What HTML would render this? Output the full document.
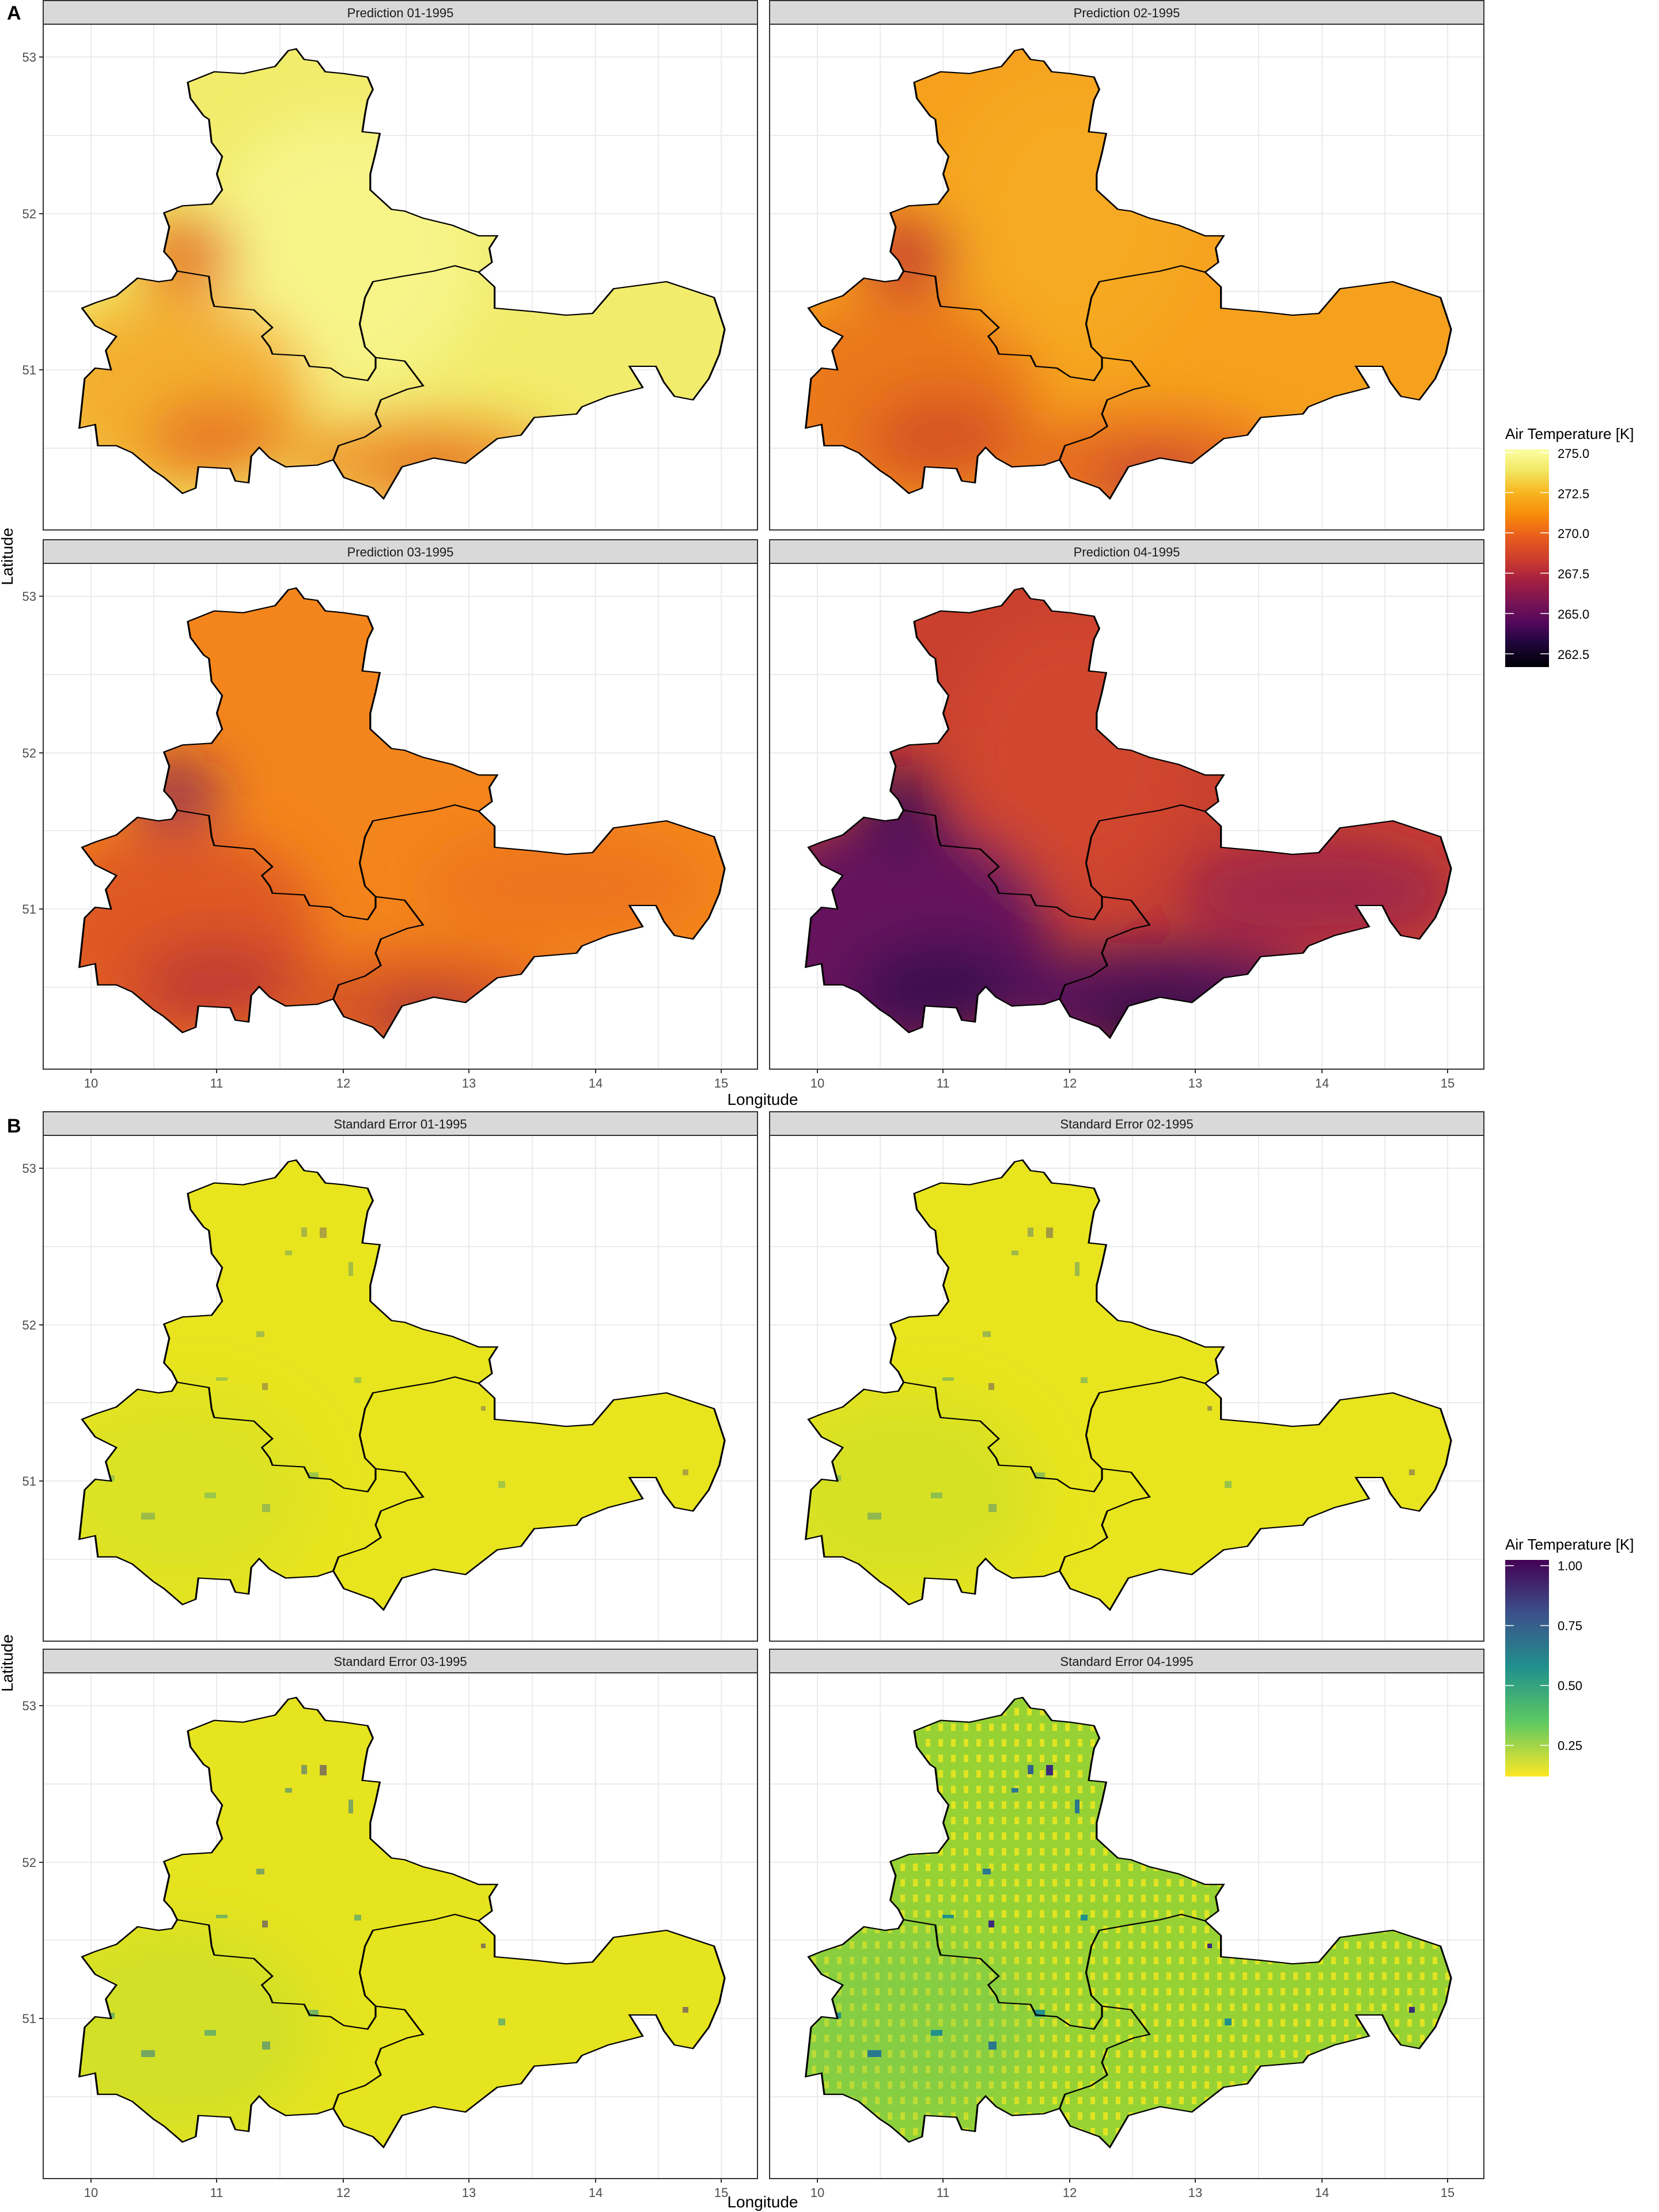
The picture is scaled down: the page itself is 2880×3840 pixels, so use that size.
<!DOCTYPE html>
<html><head><meta charset="utf-8"><style>body{margin:0;background:#fff}svg{display:block}text{font-family:"Liberation Sans",sans-serif}</style></head>
<body>
<svg width="2880" height="3840" viewBox="0 0 2880 3840" xmlns="http://www.w3.org/2000/svg">
<defs>
<filter id="bl" x="-50%" y="-50%" width="200%" height="200%"><feGaussianBlur stdDeviation="45"/></filter>
<filter id="bs" x="-50%" y="-50%" width="200%" height="200%"><feGaussianBlur stdDeviation="3"/></filter>
<path id="outer" transform="translate(-75,-46) scale(0.9183,0.6124)" d="M560,145 L575,175 L600,180 L615,210 L650,215 L695,225 L705,260 L695,290 L690,330 L685,380 L718,385 L710,440 L700,500 L700,545 L740,600 L765,605 L800,625 L855,645 L880,660 L905,675 L940,675 L925,710 L930,750 L905,778 L935,820 L935,880 L1010,890 L1070,900 L1120,895 L1160,825 L1260,805 L1350,850 L1370,940 L1360,1010 L1340,1080 L1310,1140 L1275,1130 L1255,1090 L1240,1045 L1190,1045 L1215,1105 L1150,1130 L1100,1160 L1090,1180 L1010,1190 L985,1240 L940,1250 L880,1320 L820,1305 L760,1330 L725,1420 L705,1390 L650,1360 L630,1310 L600,1325 L540,1330 L510,1305 L490,1275 L475,1300 L470,1375 L445,1370 L435,1335 L375,1330 L370,1390 L345,1405 L310,1360 L290,1340 L250,1290 L220,1270 L185,1270 L180,1210 L150,1220 L160,1080 L180,1050 L210,1055 L200,1000 L220,960 L180,930 L155,880 L180,865 L220,845 L260,795 L300,805 L325,800 L335,775 L325,745 L310,720 L320,650 L310,610 L345,590 L400,585 L420,545 L410,500 L420,450 L400,410 L395,345 L385,335 L360,285 L355,240 L405,210 L460,215 L520,195 L545,150 Z"/>
<path id="inner" transform="translate(-75,-46) scale(0.9183,0.6124)" d="M335,775 L395,790 L400,850 L405,875 L480,885 L515,935 L495,960 L510,990 L515,1010 L575,1015 L585,1045 L625,1050 L650,1075 L695,1085 L710,1050 L710,1020 M905,778 L860,760 L820,775 L760,790 L705,805 L690,850 L680,925 L690,990 L710,1020 L765,1030 L800,1100 L770,1110 L720,1140 L710,1180 L720,1215 L690,1245 L640,1270 L630,1310"/>
<clipPath id="clip"><use href="#outer"/></clipPath>
<linearGradient id="leg1" x1="0" y1="0" x2="0" y2="1">
<stop offset="0" stop-color="#fcffa4"/><stop offset="0.1" stop-color="#f2e661"/><stop offset="0.2" stop-color="#f8b51f"/><stop offset="0.3" stop-color="#f98c0a"/><stop offset="0.4" stop-color="#e85d1d"/><stop offset="0.5" stop-color="#cf3e2c"/><stop offset="0.6" stop-color="#a6203f"/><stop offset="0.7" stop-color="#7b1454"/><stop offset="0.8" stop-color="#52075c"/><stop offset="0.88" stop-color="#23063f"/><stop offset="1" stop-color="#000004"/></linearGradient>
<linearGradient id="leg2" x1="0" y1="0" x2="0" y2="1">
<stop offset="0" stop-color="#440154"/><stop offset="0.25" stop-color="#3b528b"/><stop offset="0.5" stop-color="#21918c"/><stop offset="0.75" stop-color="#5ec962"/><stop offset="1" stop-color="#fde725"/></linearGradient>
<pattern id="dots" width="22" height="27" patternUnits="userSpaceOnUse"><rect width="22" height="27" fill="#97d234"/><rect x="7" y="7" width="8" height="13" fill="#e0e422"/></pattern>
<g id="grid">
<rect x="0" y="0" width="1240" height="878" fill="#fff" stroke="none"/>
<g stroke="#ebebeb" stroke-width="2">
<line x1="0" y1="57" x2="1240" y2="57"/><line x1="0" y1="193" x2="1240" y2="193"/><line x1="0" y1="329" x2="1240" y2="329"/><line x1="0" y1="464" x2="1240" y2="464"/><line x1="0" y1="600" x2="1240" y2="600"/><line x1="0" y1="736" x2="1240" y2="736"/>
<line x1="83" y1="0" x2="83" y2="878"/><line x1="192" y1="0" x2="192" y2="878"/><line x1="301" y1="0" x2="301" y2="878"/><line x1="411" y1="0" x2="411" y2="878"/><line x1="521" y1="0" x2="521" y2="878"/><line x1="630" y1="0" x2="630" y2="878"/><line x1="739" y1="0" x2="739" y2="878"/><line x1="849" y1="0" x2="849" y2="878"/><line x1="959" y1="0" x2="959" y2="878"/><line x1="1068" y1="0" x2="1068" y2="878"/><line x1="1177" y1="0" x2="1177" y2="878"/>
</g></g>
<g id="lines"><use href="#outer" fill="none" stroke="#000" stroke-width="3.5"/><use href="#inner" fill="none" stroke="#000" stroke-width="3.5"/></g>
<g id="ylab" font-size="22" fill="#4d4d4d" text-anchor="end">
<text x="-12" y="65">53</text><text x="-12" y="337">52</text><text x="-12" y="608">51</text>
<g stroke="#333" stroke-width="2"><line x1="-7" y1="57" x2="0" y2="57"/><line x1="-7" y1="329" x2="0" y2="329"/><line x1="-7" y1="600" x2="0" y2="600"/></g></g>
<g id="xlab" font-size="22" fill="#4d4d4d" text-anchor="middle">
<g stroke="#333" stroke-width="2"><line x1="83" y1="878" x2="83" y2="885"/><line x1="301" y1="878" x2="301" y2="885"/><line x1="521" y1="878" x2="521" y2="885"/><line x1="739" y1="878" x2="739" y2="885"/><line x1="959" y1="878" x2="959" y2="885"/><line x1="1177" y1="878" x2="1177" y2="885"/></g>
<text x="83" y="910">10</text><text x="301" y="910">11</text><text x="521" y="910">12</text><text x="739" y="910">13</text><text x="959" y="910">14</text><text x="1177" y="910">15</text></g>
<g id="specks">
<rect x="448" y="160" width="10" height="16" fill="#33638d"/><rect x="480" y="160" width="12" height="18" fill="#3b2a7a"/><rect x="420" y="200" width="12" height="8" fill="#2a788e"/><rect x="530" y="220" width="8" height="24" fill="#2a788e"/><rect x="370" y="340" width="14" height="10" fill="#2a788e"/><rect x="380" y="430" width="10" height="12" fill="#3b2a7a"/><rect x="300" y="420" width="20" height="6" fill="#21918c"/><rect x="760" y="470" width="8" height="8" fill="#3b2a7a"/><rect x="460" y="585" width="18" height="12" fill="#21918c"/><rect x="380" y="640" width="14" height="14" fill="#2a788e"/><rect x="280" y="620" width="20" height="10" fill="#21918c"/><rect x="170" y="655" width="24" height="12" fill="#2a788e"/><rect x="1110" y="580" width="10" height="10" fill="#3b2a7a"/><rect x="1150" y="660" width="8" height="10" fill="#21918c"/><rect x="1140" y="790" width="12" height="10" fill="#21918c"/><rect x="740" y="835" width="12" height="12" fill="#21918c"/><rect x="110" y="590" width="14" height="10" fill="#21918c"/><rect x="790" y="600" width="12" height="12" fill="#21918c"/><rect x="540" y="420" width="12" height="10" fill="#21918c"/>
</g>
</defs>

<!-- Row 1 -->
<g transform="translate(75,42)">
<use href="#grid"/>
<g clip-path="url(#clip)">
<rect x="0" y="0" width="1240" height="878" fill="#f2ec6c"/>
<g filter="url(#bl)">
<ellipse cx="520" cy="400" rx="240" ry="240" fill="#f7f690" opacity="0.8"/>
<ellipse cx="230" cy="640" rx="240" ry="170" fill="#f39a1e" opacity="0.75"/>
<ellipse cx="300" cy="720" rx="120" ry="70" fill="#e4661f" opacity="0.7"/>
<ellipse cx="250" cy="400" rx="90" ry="70" fill="#e46b22" opacity="0.85"/>
<ellipse cx="660" cy="760" rx="240" ry="80" fill="#ee8520" opacity="0.8"/>
<ellipse cx="680" cy="790" rx="90" ry="30" fill="#d94d2a" opacity="0.8"/>
</g></g>
<use href="#lines"/>
<rect x="0" y="0" width="1240" height="878" fill="none" stroke="#333" stroke-width="2"/>
<use href="#ylab"/>
</g>
<g transform="translate(75,0)"><rect x="0" y="1" width="1240" height="41" fill="#d9d9d9" stroke="#333" stroke-width="2"/><text x="620" y="30" font-size="22" fill="#1a1a1a" text-anchor="middle">Prediction 01-1995</text></g>

<g transform="translate(1336,42)">
<use href="#grid"/>
<g clip-path="url(#clip)">
<rect x="0" y="0" width="1240" height="878" fill="#f6a11e"/>
<g filter="url(#bl)">
<ellipse cx="520" cy="330" rx="220" ry="260" fill="#f7ac22" opacity="0.7"/>
<ellipse cx="230" cy="650" rx="240" ry="180" fill="#e6691e" opacity="0.75"/>
<ellipse cx="300" cy="720" rx="130" ry="80" fill="#cf4628" opacity="0.7"/>
<ellipse cx="240" cy="400" rx="90" ry="70" fill="#c53a2d" opacity="0.85"/>
<ellipse cx="660" cy="770" rx="240" ry="90" fill="#e05a23" opacity="0.8"/>
<ellipse cx="670" cy="800" rx="90" ry="35" fill="#a82a44" opacity="0.8"/>
</g></g>
<use href="#lines"/>
<rect x="0" y="0" width="1240" height="878" fill="none" stroke="#333" stroke-width="2"/>
</g>
<g transform="translate(1336,0)"><rect x="0" y="1" width="1240" height="41" fill="#d9d9d9" stroke="#333" stroke-width="2"/><text x="620" y="30" font-size="22" fill="#1a1a1a" text-anchor="middle">Prediction 02-1995</text></g>

<!-- Row 2 -->
<g transform="translate(75,978)">
<use href="#grid"/>
<g clip-path="url(#clip)">
<rect x="0" y="0" width="1240" height="878" fill="#f4851c"/>
<g filter="url(#bl)">
<ellipse cx="230" cy="650" rx="250" ry="190" fill="#d84c24" opacity="0.8"/>
<ellipse cx="300" cy="730" rx="140" ry="80" fill="#b8343a" opacity="0.7"/>
<ellipse cx="230" cy="400" rx="80" ry="60" fill="#7a1a5e" opacity="0.75"/>
<ellipse cx="660" cy="770" rx="240" ry="90" fill="#d04a28" opacity="0.8"/>
<ellipse cx="670" cy="800" rx="90" ry="35" fill="#8a1f4e" opacity="0.8"/>
<ellipse cx="900" cy="560" rx="240" ry="90" fill="#e9691f" opacity="0.6"/>
</g></g>
<use href="#lines"/>
<rect x="0" y="0" width="1240" height="878" fill="none" stroke="#333" stroke-width="2"/>
<use href="#ylab"/><use href="#xlab"/>
</g>
<g transform="translate(75,936)"><rect x="0" y="1" width="1240" height="41" fill="#d9d9d9" stroke="#333" stroke-width="2"/><text x="620" y="30" font-size="22" fill="#1a1a1a" text-anchor="middle">Prediction 03-1995</text></g>

<g transform="translate(1336,978)">
<use href="#grid"/>
<g clip-path="url(#clip)">
<rect x="0" y="0" width="1240" height="878" fill="#c9402f"/>
<g filter="url(#bl)">
<ellipse cx="520" cy="330" rx="200" ry="240" fill="#d44a2c" opacity="0.7"/>
<ellipse cx="220" cy="650" rx="270" ry="210" fill="#5a1263" opacity="0.9"/>
<ellipse cx="300" cy="740" rx="150" ry="80" fill="#2d0a4a" opacity="0.7"/>
<ellipse cx="230" cy="420" rx="80" ry="70" fill="#3d0b55" opacity="0.85"/>
<ellipse cx="680" cy="760" rx="280" ry="100" fill="#4a1060" opacity="0.9"/>
<ellipse cx="680" cy="800" rx="130" ry="40" fill="#160624" opacity="0.8"/>
<ellipse cx="950" cy="570" rx="240" ry="90" fill="#8d1f55" opacity="0.7"/>
</g></g>
<use href="#lines"/>
<rect x="0" y="0" width="1240" height="878" fill="none" stroke="#333" stroke-width="2"/>
<use href="#xlab"/>
</g>
<g transform="translate(1336,936)"><rect x="0" y="1" width="1240" height="41" fill="#d9d9d9" stroke="#333" stroke-width="2"/><text x="620" y="30" font-size="22" fill="#1a1a1a" text-anchor="middle">Prediction 04-1995</text></g>

<text x="1324" y="1918" font-size="28" text-anchor="middle" fill="#000">Longitude</text>
<text transform="translate(22,966) rotate(-90)" font-size="28" text-anchor="middle" fill="#000">Latitude</text>
<text x="12" y="34" font-size="34" font-weight="bold" fill="#000">A</text>
<text x="12" y="1966" font-size="34" font-weight="bold" fill="#000">B</text>

<!-- Legend 1 -->
<text x="2613" y="762" font-size="26" fill="#000">Air Temperature [K]</text>
<rect x="2613" y="780" width="76" height="378" fill="url(#leg1)"/>
<g stroke="#fff" stroke-width="1.5"><line x1="2613" y1="786" x2="2628" y2="786"/><line x1="2674" y1="786" x2="2689" y2="786"/><line x1="2613" y1="855" x2="2628" y2="855"/><line x1="2674" y1="855" x2="2689" y2="855"/><line x1="2613" y1="925" x2="2628" y2="925"/><line x1="2674" y1="925" x2="2689" y2="925"/><line x1="2613" y1="995" x2="2628" y2="995"/><line x1="2674" y1="995" x2="2689" y2="995"/><line x1="2613" y1="1065" x2="2628" y2="1065"/><line x1="2674" y1="1065" x2="2689" y2="1065"/><line x1="2613" y1="1135" x2="2628" y2="1135"/><line x1="2674" y1="1135" x2="2689" y2="1135"/></g>
<g font-size="22" fill="#000"><text x="2704" y="795">275.0</text><text x="2704" y="865">272.5</text><text x="2704" y="934">270.0</text><text x="2704" y="1004">267.5</text><text x="2704" y="1074">265.0</text><text x="2704" y="1144">262.5</text></g>

<!-- Row 3 -->
<g transform="translate(75,1971)">
<use href="#grid"/>
<g clip-path="url(#clip)">
<rect x="0" y="0" width="1240" height="878" fill="#e8e41e"/>
<g filter="url(#bl)">
<ellipse cx="230" cy="620" rx="230" ry="170" fill="#cfe02a" opacity="0.5"/>
</g>
<g opacity="0.35"><use href="#specks"/></g>
</g>
<use href="#lines"/>
<rect x="0" y="0" width="1240" height="878" fill="none" stroke="#333" stroke-width="2"/>
<use href="#ylab"/>
</g>
<g transform="translate(75,1929)"><rect x="0" y="1" width="1240" height="41" fill="#d9d9d9" stroke="#333" stroke-width="2"/><text x="620" y="30" font-size="22" fill="#1a1a1a" text-anchor="middle">Standard Error 01-1995</text></g>

<g transform="translate(1336,1971)">
<use href="#grid"/>
<g clip-path="url(#clip)">
<rect x="0" y="0" width="1240" height="878" fill="#e8e41e"/>
<g filter="url(#bl)">
<ellipse cx="230" cy="620" rx="230" ry="170" fill="#c9df2c" opacity="0.55"/>
</g>
<g opacity="0.4"><use href="#specks"/></g>
</g>
<use href="#lines"/>
<rect x="0" y="0" width="1240" height="878" fill="none" stroke="#333" stroke-width="2"/>
</g>
<g transform="translate(1336,1929)"><rect x="0" y="1" width="1240" height="41" fill="#d9d9d9" stroke="#333" stroke-width="2"/><text x="620" y="30" font-size="22" fill="#1a1a1a" text-anchor="middle">Standard Error 02-1995</text></g>

<!-- Row 4 -->
<g transform="translate(75,2904)">
<use href="#grid"/>
<g clip-path="url(#clip)">
<rect x="0" y="0" width="1240" height="878" fill="#e6e31f"/>
<g filter="url(#bl)">
<ellipse cx="230" cy="620" rx="240" ry="180" fill="#c4de2e" opacity="0.6"/>
</g>
<g opacity="0.55"><use href="#specks"/></g>
</g>
<use href="#lines"/>
<rect x="0" y="0" width="1240" height="878" fill="none" stroke="#333" stroke-width="2"/>
<use href="#ylab"/><use href="#xlab"/>
</g>
<g transform="translate(75,2862)"><rect x="0" y="1" width="1240" height="41" fill="#d9d9d9" stroke="#333" stroke-width="2"/><text x="620" y="30" font-size="22" fill="#1a1a1a" text-anchor="middle">Standard Error 03-1995</text></g>

<g transform="translate(1336,2904)">
<use href="#grid"/>
<g clip-path="url(#clip)">
<rect x="0" y="0" width="1240" height="878" fill="url(#dots)"/>
<g filter="url(#bl)">
<ellipse cx="220" cy="620" rx="240" ry="180" fill="#5cc463" opacity="0.3"/>
</g>
<use href="#specks"/>
</g>
<use href="#lines"/>
<rect x="0" y="0" width="1240" height="878" fill="none" stroke="#333" stroke-width="2"/>
<use href="#xlab"/>
</g>
<g transform="translate(1336,2862)"><rect x="0" y="1" width="1240" height="41" fill="#d9d9d9" stroke="#333" stroke-width="2"/><text x="620" y="30" font-size="22" fill="#1a1a1a" text-anchor="middle">Standard Error 04-1995</text></g>

<text x="1324" y="3832" font-size="28" text-anchor="middle" fill="#000">Longitude</text>
<text transform="translate(22,2887) rotate(-90)" font-size="28" text-anchor="middle" fill="#000">Latitude</text>

<!-- Legend 2 -->
<text x="2613" y="2690" font-size="26" fill="#000">Air Temperature [K]</text>
<rect x="2613" y="2708" width="76" height="376" fill="url(#leg2)"/>
<g stroke="#fff" stroke-width="1.5"><line x1="2613" y1="2718" x2="2628" y2="2718"/><line x1="2674" y1="2718" x2="2689" y2="2718"/><line x1="2613" y1="2822" x2="2628" y2="2822"/><line x1="2674" y1="2822" x2="2689" y2="2822"/><line x1="2613" y1="2926" x2="2628" y2="2926"/><line x1="2674" y1="2926" x2="2689" y2="2926"/><line x1="2613" y1="3030" x2="2628" y2="3030"/><line x1="2674" y1="3030" x2="2689" y2="3030"/></g>
<g font-size="22" fill="#000"><text x="2704" y="2726">1.00</text><text x="2704" y="2830">0.75</text><text x="2704" y="2934">0.50</text><text x="2704" y="3038">0.25</text></g>
</svg>
</body></html>
